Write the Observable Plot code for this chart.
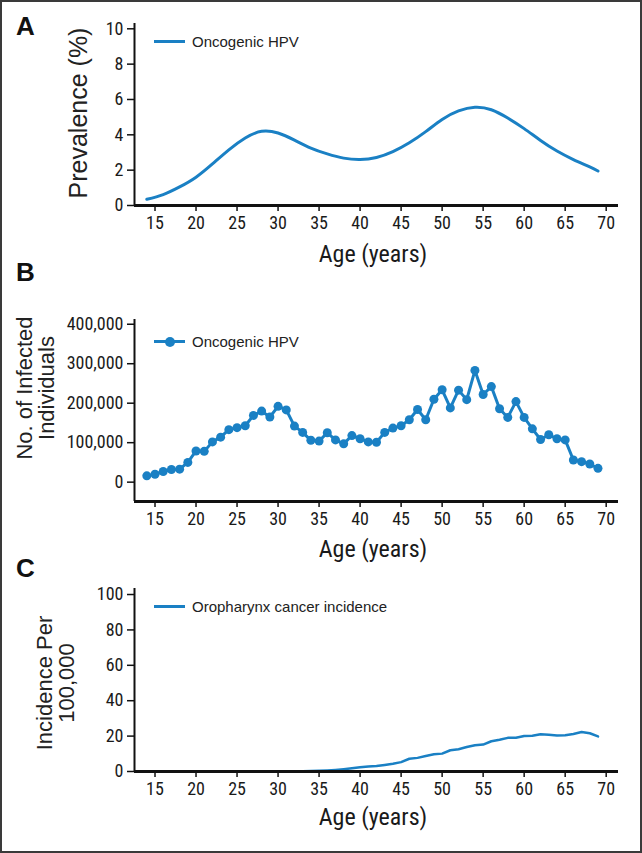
<!DOCTYPE html>
<html>
<head>
<meta charset="utf-8">
<script src="https://cdn.jsdelivr.net/npm/d3@7"></script>
<script src="https://cdn.jsdelivr.net/npm/@observablehq/plot@0.6"></script>
<style>
  body { margin: 0; background: #fff; }
  #fig { position: relative; width: 642px; height: 853px; background: #fff; overflow: hidden; }
  #frame { position: absolute; left: 0; top: 0; width: 642px; height: 853px; box-sizing: border-box; border: 2px solid #3a3a3a; pointer-events: none; }
  .panel { position: absolute; left: 0; }
  .letter { position: absolute; font-family: "Liberation Sans", Arial, sans-serif; font-weight: bold; font-size: 26px; color: #111; line-height: 1; }
  .xtitle { position: absolute; width: 200px; text-align: center; font-family: "Roboto Condensed", sans-serif; font-size: 24px; color: #1a1a1a; line-height: 1; }
  .ytitle { position: absolute; width: 240px; text-align: center; font-family: "Liberation Sans", Arial, sans-serif; font-size: 22px; color: #222; line-height: 22px; transform: translate(-50%, -50%) rotate(-90deg); white-space: nowrap; }
  .legend { position: absolute; display: flex; align-items: center; font-family: "Liberation Sans", Arial, sans-serif; font-size: 15px; color: #222; }
  .legend .sw { position: relative; width: 31px; height: 3px; background: #1a80c4; margin-right: 7px; }
  .legend .dot { position: absolute; left: 11px; top: -3.5px; width: 10px; height: 10px; border-radius: 50%; background: #1a80c4; }
</style>
</head>
<body>
<div id="fig"></div>
<script>
// ---- data ----
const prevAges = [14, 16, 18, 20, 22, 24, 26, 28, 30, 32, 34, 36, 38, 40, 42, 44, 46, 48, 50, 52, 54, 56, 58, 60, 62, 64, 66, 68, 69];
const prevValues = [0.35, 0.62, 1.05, 1.6, 2.35, 3.15, 3.82, 4.2, 4.1, 3.7, 3.25, 2.92, 2.68, 2.6, 2.72, 3.05, 3.55, 4.18, 4.87, 5.35, 5.56, 5.42, 4.95, 4.35, 3.68, 3.08, 2.6, 2.18, 1.95];

const infAges = d3.range(14, 70);
const infValues = [16000, 20000, 27000, 32000, 33000, 50000, 79000, 78000, 102000, 114000,
  133000, 138000, 143000, 169000, 180000, 165000, 192000, 183000, 142000, 126000,
  106000, 104000, 125000, 107000, 97000, 118000, 110000, 102000, 101000, 126000,
  137000, 143000, 158000, 184000, 158000, 210000, 234000, 188000, 233000, 209000,
  283000, 222000, 242000, 186000, 164000, 204000, 164000, 135000, 108000, 120000,
  110000, 107000, 56000, 52000, 46000, 35000];

const incAges = d3.range(14, 70);
const incValues = [0, 0, 0, 0, 0, 0, 0, 0, 0, 0, 0, 0, 0, 0, 0, 0, 0,
  0.05, 0.1, 0.2, 0.3, 0.4, 0.6, 0.9, 1.3, 1.8, 2.4, 2.8, 3.1, 3.7, 4.4, 5.3,
  7.2, 7.7, 8.8, 9.7, 10.1, 12.0, 12.6, 13.8, 14.8, 15.2, 17.1, 17.9, 19.0, 19.1,
  20.1, 20.2, 21.0, 20.7, 20.3, 20.5, 21.2, 22.3, 21.6, 19.8];

const xTicks = [15, 20, 25, 30, 35, 40, 45, 50, 55, 60, 65, 70];
const prevTicks = [0, 2, 4, 6, 8, 10];
const infTicks = [0, 100000, 200000, 300000, 400000];
const incTicks = [0, 20, 40, 60, 80, 100];

const legendA = "Oncogenic HPV";
const legendB = "Oncogenic HPV";
const legendC = "Oropharynx cancer incidence";
const xTitle = "Age (years)";
const yTitleA = "Prevalence (%)";
const yTitleB = ["No. of Infected", "Individuals"];
const yTitleC = ["Incidence Per", "100,000"];

// ---- setup ----
const blue = "#1a80c4";
const xDomain = [12.5, 71.5];
const tickFont = "'Roboto Condensed', sans-serif";
const fig = document.getElementById("fig");

function panel({top, height, marginTop, marginBottom, yDomain, yTicks, yFormat, marks}) {
  const p = Plot.plot({
    width: 642,
    height,
    marginLeft: 134,
    marginRight: 24,
    marginTop,
    marginBottom,
    style: {fontFamily: tickFont, color: "#1a1a1a", background: "transparent", overflow: "visible"},
    x: {domain: xDomain},
    y: {domain: yDomain},
    marks: [
      Plot.axisX({ticks: xTicks, tickSize: 6, tickPadding: 5, fontSize: 18, label: null, stroke: "#111", strokeWidth: 1.5}),
      Plot.axisY({ticks: yTicks, tickSize: 7, tickPadding: 4, fontSize: 18, label: null, tickFormat: yFormat, stroke: "#111", strokeWidth: 1.5}),
      ...marks,
      Plot.ruleX([xDomain[0]], {stroke: "#111", strokeWidth: 2}),
      Plot.ruleY([yDomain[0]], {stroke: "#111", strokeWidth: 3})
    ]
  });
  p.classList.add("panel");
  p.style.top = top + "px";
  fig.appendChild(p);
}

// Panel A
panel({
  top: 0, height: 270, marginTop: 23, marginBottom: 65,
  yDomain: [0, 10.3], yTicks: prevTicks, yFormat: d3.format("d"),
  marks: [Plot.line(prevAges, {x: d => d, y: (d, i) => prevValues[i], stroke: blue, strokeWidth: 3, curve: "natural"})]
});

// Panel B
panel({
  top: 280, height: 290, marginTop: 39, marginBottom: 69,
  yDomain: [-49000, 412000], yTicks: infTicks, yFormat: d3.format(","),
  marks: [
    Plot.line(infAges, {x: d => d, y: (d, i) => infValues[i], stroke: blue, strokeWidth: 3}),
    Plot.dot(infAges, {x: d => d, y: (d, i) => infValues[i], fill: blue, r: 4.5})
  ]
});

// Panel C
panel({
  top: 570, height: 283, marginTop: 18, marginBottom: 82,
  yDomain: [0, 103.4], yTicks: incTicks, yFormat: d3.format("d"),
  marks: [Plot.line(incAges, {x: d => d, y: (d, i) => incValues[i], stroke: blue, strokeWidth: 2.5})]
});

// ---- HTML text: letters, titles, legends ----
function addDiv(cls, html, css) {
  const el = document.createElement("div");
  el.className = cls;
  el.innerHTML = html;
  Object.assign(el.style, css);
  fig.appendChild(el);
  return el;
}
addDiv("letter", "A", {left: "16px", top: "13px"});
addDiv("letter", "B", {left: "16px", top: "259px"});
addDiv("letter", "C", {left: "16px", top: "555px"});

addDiv("xtitle", xTitle, {left: "273px", top: "242px"});
addDiv("xtitle", xTitle, {left: "273px", top: "537px"});
addDiv("xtitle", xTitle, {left: "273px", top: "805px"});

addDiv("ytitle", yTitleA, {left: "78px", top: "113px", fontSize: "25px"});
addDiv("ytitle", yTitleB.join("<br>"), {left: "36px", top: "388px"});
addDiv("ytitle", yTitleC.join("<br>"), {left: "56px", top: "683px"});

addDiv("legend", `<span class="sw"></span><span>${legendA}</span>`, {left: "154px", top: "33px"});
addDiv("legend", `<span class="sw"><span class="dot"></span></span><span>${legendB}</span>`, {left: "154px", top: "333px"});
addDiv("legend", `<span class="sw"></span><span>${legendC}</span>`, {left: "154px", top: "598px"});

addDiv("", "", {}).id = "frame";
</script>
</body>
</html>
